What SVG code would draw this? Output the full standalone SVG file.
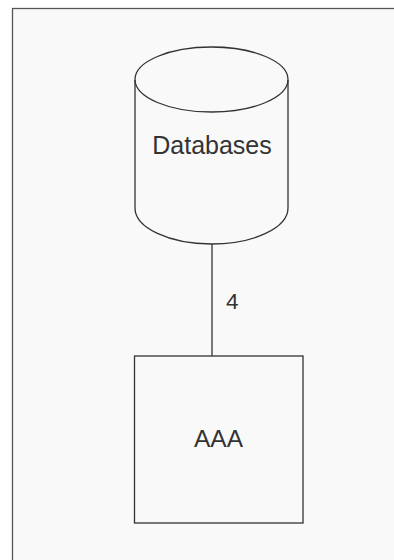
<svg xmlns="http://www.w3.org/2000/svg" width="394" height="560" viewBox="0 0 394 560">
<style>
.shape{fill:none;stroke:#333;stroke-width:1.3}
.lbl{font-family:"Liberation Sans",Arial,sans-serif;font-size:25px;fill:#333;text-anchor:middle}
</style>
<rect x="0" y="0" width="394" height="560" fill="#ffffff"/>
<rect id="frame" x="12.5" y="8.5" width="400" height="580" fill="#f9f9f9" stroke="#555" stroke-width="1.3"/>
<g id="connectors">
<line class="shape" x1="212" y1="244" x2="212" y2="356"/>
<text class="lbl" x="226" y="309" style="font-size:22.5px;text-anchor:start">4</text>
</g>
<g id="databases">
<path class="shape" d="M135,80 L135,208 A76.5,36 0 0 0 288,208 L288,80"/>
<ellipse class="shape" cx="211.5" cy="79.5" rx="76.5" ry="32.5"/>
<text class="lbl" x="212" y="154">Databases</text>
</g>
<g id="aaa">
<rect class="shape" x="134.5" y="356" width="168.5" height="167"/>
<text class="lbl" x="218.5" y="447" style="font-size:24.5px">AAA</text>
</g>
</svg>
